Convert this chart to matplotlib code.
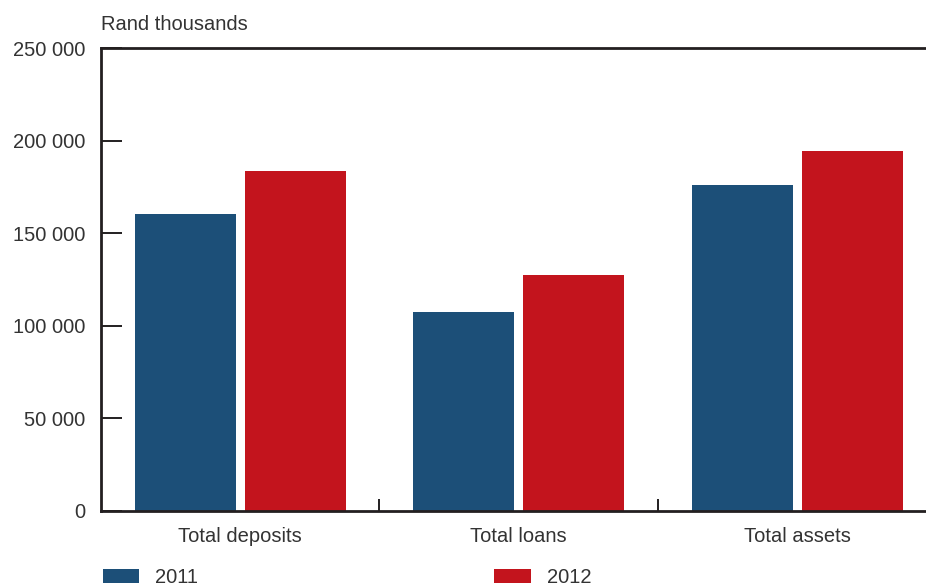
import numpy as np
import matplotlib
matplotlib.use("Agg")
from matplotlib import pyplot as plt
from matplotlib.ticker import FuncFormatter

# Données (milliers de rands)
categories = ["Total deposits", "Total loans", "Total assets"]
values_2011 = [160600, 107200, 175800]
values_2012 = [183800, 127200, 194500]
series_labels = ["2011", "2012"]
yticks = [0, 50000, 100000, 150000, 200000, 250000]

BLUE = "#1c4f78"
RED = "#c3141d"
TXT = "#333333"

plt.rcParams["font.family"] = ["Liberation Sans", "DejaVu Sans"]
FS = 14.5

fig = plt.figure(figsize=(9.26, 5.88), dpi=100)
# l'axe déborde à droite, comme sur l'original
ax = fig.add_axes([101 / 926, 1 - 511 / 588, 835.5 / 926, (511 - 48) / 588])

x = np.arange(len(categories))
w = 0.363
off = 0.1975
b1 = ax.bar(x - off, values_2011, width=w, color=BLUE, label=series_labels[0])
b2 = ax.bar(x + off, values_2012, width=w, color=RED, label=series_labels[1])

ax.set_xlim(-0.5, len(categories) - 0.5)
ax.set_ylim(0, 250000)

for s in ["left", "bottom", "top"]:
    ax.spines[s].set_linewidth(2.0)
    ax.spines[s].set_color("#231f20")
ax.spines["right"].set_visible(False)

ax.set_yticks(yticks)
ax.yaxis.set_major_formatter(FuncFormatter(lambda v, p: f"{int(v):,}".replace(",", " ")))
ax.tick_params(axis="y", direction="in", length=15, width=1.4, color="#231f20",
               pad=11.5, labelsize=FS, labelcolor=TXT)

ax.set_xticks(x)
ax.set_xticklabels(categories)
ax.tick_params(axis="x", which="major", length=0, pad=11.5, labelsize=FS, labelcolor=TXT)
ax.set_xticks(x[:-1] + 0.5, minor=True)
ax.tick_params(axis="x", which="minor", direction="in", length=8.5, width=1.4, color="#231f20")

fig.text(101 / 926, 1 - 24 / 588, "Rand thousands", fontsize=FS, color=TXT,
         ha="left", va="center")

leg = ax.legend(handles=[b1, b2], ncol=2, loc="upper left",
                bbox_to_anchor=(103 / 926, 1 - 568 / 588), bbox_transform=fig.transFigure,
                frameon=False, fontsize=FS, handlelength=1.8, handleheight=0.7,
                handletextpad=0.8, columnspacing=14.7, borderpad=0, borderaxespad=0)
for t in leg.get_texts():
    t.set_color(TXT)

fig.savefig("out.png", dpi=100)
